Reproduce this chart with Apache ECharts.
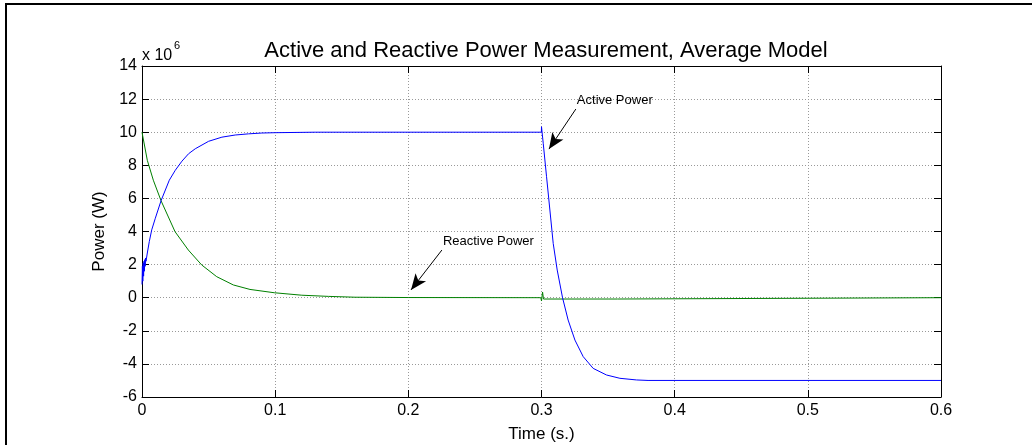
<!DOCTYPE html>
<html><head><meta charset="utf-8">
<script src="https://cdn.jsdelivr.net/npm/echarts@6/dist/echarts.min.js"></script>
<style>html,body{margin:0;padding:0;background:#fff}#c{width:1032px;height:445px}</style>
</head><body><div id="c"></div>
<script>
// Values in units of 10^6 W, times in seconds
const activeTime = [0,0.0003,0.0006,0.0009,0.0012,0.0015,0.0018,0.0021,0.0024,0.0027,0.003,0.004,0.0055,0.0073,0.01,0.0143,0.0205,0.025,0.03,0.035,0.04,0.05,0.06,0.07,0.08,0.09,0.1,0.13,0.2999,0.3,0.3013,0.3038,0.3063,0.3088,0.3118,0.3158,0.32,0.3251,0.3313,0.3388,0.3488,0.3589,0.3714,0.38,0.6];
const activePower = [0.8,1.9,1.0,2.1,1.3,2.2,1.6,2.3,1.9,2.4,2.2,2.7,3.4,4.1,4.8,5.86,7.1,7.7,8.25,8.7,9.0,9.45,9.7,9.83,9.9,9.95,9.97,10.0,10.0,10.33,9.33,7.31,5.3,3.28,1.67,0,-1.35,-2.56,-3.56,-4.27,-4.67,-4.87,-4.97,-5.0,-5.0];
const reactiveTime = [0,0.004,0.0085,0.0143,0.0248,0.0348,0.0448,0.0561,0.0686,0.0811,0.0993,0.12,0.14,0.16,0.2,0.2995,0.3,0.3008,0.3015,0.35,0.357,0.3575,0.6];
const reactivePower = [10.0,8.3,7.1,5.86,3.99,2.88,1.98,1.27,0.77,0.5,0.3,0.15,0.08,0.03,0.01,0,-0.2,0.34,-0.08,-0.08,-0.08,0,0];
const xTicks = [0,0.1,0.2,0.3,0.4,0.5,0.6];
const yTicks = [-6,-4,-2,0,2,4,6,8,10,12,14];
const annotations = [
  {text:'Active Power', tail:[0.3258,11.4], tip:[0.3056,8.98]},
  {text:'Reactive Power', tail:[0.2252,2.88], tip:[0.2020,0.47]}
];

const font = '"Liberation Sans", Arial, sans-serif';
const pair = (t, v) => t.map((x, i) => [x, v[i]]);
const chart = echarts.init(document.getElementById('c'), null, {renderer:'canvas'});
const axisCommon = {
  axisLine:{show:true, onZero:false, lineStyle:{color:'#000', width:1}},
  axisTick:{show:true, inside:true, length:7, lineStyle:{color:'#000'}},
};
chart.setOption({
  animation:false,
  backgroundColor:'#fff',
  title:{text:'Active and Reactive Power Measurement, Average Model', left:541, top:35, textAlign:'center',
    textStyle:{fontFamily:font, fontSize:22, fontWeight:'normal', color:'#000'}},
  grid:{left:142, right:91, top:66, bottom:48, containLabel:false, outerBoundsMode:'none'},
  xAxis:[
    Object.assign({type:'value', min:0, max:0.6, interval:0.1, position:'bottom',
      name:'Time (s.)', nameLocation:'middle', nameGap:29,
      nameTextStyle:{fontFamily:font, fontSize:17, color:'#000'},
      axisLabel:{fontFamily:font, fontSize:16, color:'#000', margin:6, formatter:v=>String(+v.toFixed(1))},
      splitLine:{show:true, lineStyle:{color:'#999', type:[1,2], width:1}}}, axisCommon),
    Object.assign({type:'value', min:0, max:0.6, interval:0.1, position:'top',
      axisLabel:{show:false}, splitLine:{show:false}}, axisCommon)
  ],
  yAxis:[
    Object.assign({type:'value', min:-6, max:14, interval:2, position:'left',
      name:'Power (W)', nameLocation:'middle', nameGap:33, nameRotate:90,
      nameTextStyle:{fontFamily:font, fontSize:17, color:'#000'},
      axisLabel:{fontFamily:font, fontSize:16, color:'#000', margin:5},
      splitLine:{show:true, lineStyle:{color:'#999', type:[1,2], width:1}}}, axisCommon),
    Object.assign({type:'value', min:-6, max:14, interval:2, position:'right',
      axisLabel:{show:false}, splitLine:{show:false}}, axisCommon)
  ],
  series:[
    {type:'line', name:'Active Power', data:pair(activeTime, activePower), showSymbol:false,
      lineStyle:{color:'#0000ff', width:1}, itemStyle:{color:'#0000ff'}, z:3,
      markLine:{silent:true, symbol:['none','arrow'], symbolSize:[10,16], animation:false,
        lineStyle:{color:'#000', width:1, type:'solid'}, label:{show:false},
        data:annotations.map(a=>[{coord:a.tail},{coord:a.tip}])}},
    {type:'line', name:'Reactive Power', data:pair(reactiveTime, reactivePower), showSymbol:false,
      lineStyle:{color:'#008000', width:1}, itemStyle:{color:'#008000'}, z:2}
  ]
});
const base = [
  {type:'rect', shape:{x:5, y:3, width:2, height:445}, style:{fill:'#000'}},
  {type:'rect', shape:{x:5, y:3, width:1030, height:2}, style:{fill:'#000'}},
  {type:'text', x:142, y:48, style:{text:'x 10', font:'16px '+font, fill:'#000'}},
  {type:'text', x:174, y:40, style:{text:'6', font:'11px '+font, fill:'#000'}}
];
// annotation texts placed just above the arrow tails
const txt = annotations.map(a => {
  const p = chart.convertToPixel({xAxisIndex:0, yAxisIndex:0}, a.tail);
  return {type:'text', x:p[0]+1, y:p[1]-15, style:{text:a.text, font:'13px '+font, fill:'#000'}};
});
chart.setOption({graphic:base.concat(txt)});
</script></body></html>
